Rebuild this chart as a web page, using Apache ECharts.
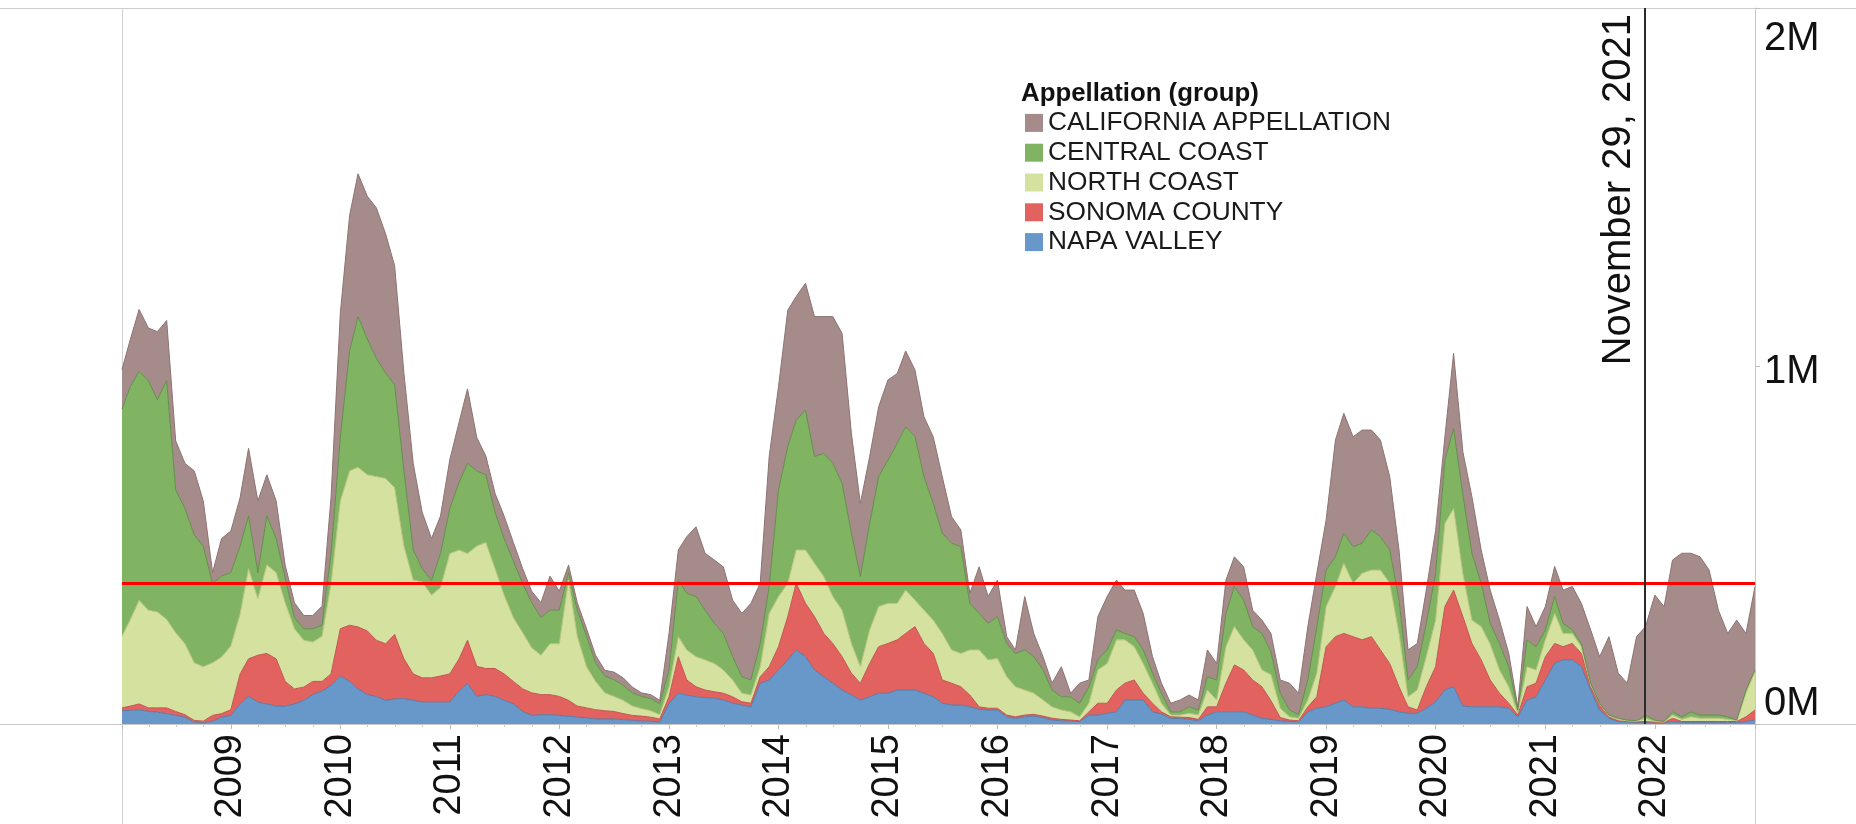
<!DOCTYPE html>
<html>
<head>
<meta charset="utf-8">
<title>Appellation (group)</title>
<script src="https://cdn.jsdelivr.net/npm/echarts@6.0.0/dist/echarts.min.js"></script>
<style>
  html, body { margin: 0; padding: 0; background: #fff; }
  #main { width: 1856px; height: 824px; }
</style>
</head>
<body>
<div id="main"></div>
<script>
// monthly samples, values in thousands
// rows = years 2008 .. 2022, last value is the right edge (Dec 1 2022)
var napa = [
  37, 38, 40, 35, 33, 29, 24, 19, 5, 3, 8, 19,
  24, 56, 77, 61, 56, 50, 50, 56, 66, 82, 92, 108,
  134, 119, 98, 82, 77, 66, 70, 71, 66, 61, 61, 61,
  61, 92, 113, 77, 82, 77, 66, 56, 35, 24, 26, 26,
  24, 22, 19, 17, 14, 14, 14, 12, 10, 8, 8, 5,
  58, 86, 81, 76, 74, 72, 67, 58, 53, 48, 114, 123,
  151, 179, 207, 188, 151, 132, 114, 95, 81, 67, 76, 86,
  86, 95, 95, 95, 86, 76, 58, 53, 53, 48, 41, 39,
  39, 20, 16, 20, 22, 18, 11, 9, 8, 7, 25, 25,
  30, 34, 67, 67, 67, 34, 28, 16, 15, 13, 9, 25,
  34, 34, 34, 34, 25, 16, 13, 9, 7, 6, 34, 44,
  48, 58, 67, 48, 48, 44, 44, 41, 34, 30, 30, 44,
  62, 95, 104, 50, 48, 48, 48, 48, 44, 20, 67, 76,
  123, 170, 179, 179, 160, 95, 39, 16, 7, 5, 4, 4,
  3, 3, 7, 4, 4, 4, 4, 4, 4, 4, 7, 11
];
var sonoma = [
  8, 12, 16, 10, 12, 16, 11, 7, 5, 5, 16, 10,
  16, 84, 105, 131, 141, 132, 69, 42, 37, 37, 27, 32,
  132, 157, 173, 178, 157, 158, 180, 111, 74, 68, 68, 73,
  79, 90, 121, 84, 73, 78, 74, 63, 63, 63, 56, 56,
  53, 44, 31, 28, 26, 23, 21, 17, 14, 14, 11, 9,
  18, 102, 42, 28, 21, 18, 19, 18, 9, 10, 18, 37,
  65, 121, 186, 149, 149, 121, 111, 93, 61, 47, 93, 130,
  139, 140, 158, 177, 139, 121, 65, 61, 51, 33, 7, 5,
  5, 5, 4, 5, 5, 4, 5, 4, 3, 2, 9, 33,
  28, 61, 47, 56, 19, 24, 6, 4, 4, 5, 4, 23,
  14, 80, 131, 117, 98, 88, 52, 9, 4, 3, 14, 32,
  168, 186, 186, 196, 187, 200, 163, 128, 70, 18, 9, 60,
  98, 233, 270, 250, 177, 131, 75, 38, 14, 5, 37, 38,
  65, 55, 37, 46, 37, 9, 14, 4, 2, 2, 2, 3,
  2, 1, 9, 3, 3, 3, 3, 3, 3, 3, 13, 28
];
var northCoast = [
  200, 242, 289, 273, 268, 247, 220, 198, 161, 152, 147, 158,
  178, 168, 252, 158, 247, 241, 220, 168, 131, 110, 126, 252,
  357, 431, 446, 436, 457, 462, 410, 315, 262, 268, 231, 247,
  336, 304, 242, 336, 352, 279, 220, 178, 157, 126, 110, 142,
  147, 336, 195, 115, 79, 50, 42, 37, 26, 21, 18, 12,
  28, 56, 84, 84, 84, 79, 65, 47, 24, 23, 28, 149,
  140, 93, 93, 149, 149, 159, 131, 130, 83, 46, 94, 112,
  112, 102, 121, 74, 93, 93, 130, 93, 93, 126, 159, 135,
  139, 107, 84, 70, 59, 45, 32, 26, 23, 11, 24, 93,
  111, 140, 121, 93, 83, 56, 24, 5, 6, 12, 12, 47,
  19, 102, 107, 84, 84, 47, 73, 26, 9, 7, 19, 66,
  112, 140, 196, 149, 186, 186, 223, 224, 149, 28, 56, 84,
  130, 232, 228, 120, 65, 93, 100, 65, 46, 5, 56, 37,
  47, 84, 37, 28, 19, 5, 3, 2, 4, 2, 1, 9,
  2, 1, 9, 6, 13, 9, 9, 9, 6, 2, 66, 107
];
var centralCoast = [
  635, 651, 640, 641, 593, 667, 399, 378, 357, 337, 221, 226,
  205, 189, 147, 73, 137, 95, 69, 31, 32, 37, 31, 84,
  178, 336, 421, 379, 331, 294, 288, 210, 84, 37, 41, 95,
  126, 189, 252, 210, 189, 157, 158, 158, 137, 126, 105, 94,
  94, 21, 73, 85, 52, 47, 47, 42, 37, 34, 34, 30,
  47, 158, 158, 168, 139, 112, 102, 65, 46, 42, 65, 75,
  298, 382, 363, 391, 298, 344, 372, 354, 308, 252, 297, 363,
  400, 447, 456, 457, 373, 326, 280, 298, 298, 130, 102, 102,
  117, 93, 93, 112, 102, 84, 47, 37, 42, 38, 46, 28,
  38, 28, 18, 28, 38, 28, 28, 9, 9, 18, 14, 37,
  56, 93, 112, 111, 65, 102, 63, 42, 19, 10, 56, 130,
  102, 83, 84, 102, 84, 112, 93, 93, 93, 47, 65, 93,
  130, 177, 223, 220, 187, 121, 58, 74, 56, 9, 75, 65,
  28, 47, 28, 10, 9, 5, 2, 3, 3, 2, 2, 9,
  4, 2, 9, 7, 14, 9, 9, 9, 7, 2, 9, 5
];
var california = [
  110, 132, 173, 147, 190, 168, 137, 126, 179, 126, 31, 105,
  116, 136, 189, 200, 115, 105, 36, 42, 37, 37, 53, 157,
  347, 378, 399, 399, 420, 389, 332, 273, 242, 157, 117, 105,
  136, 168, 208, 93, 53, 53, 63, 52, 42, 32, 42, 95,
  53, 21, 21, 21, 21, 16, 21, 21, 16, 10, 11, 10,
  102, 84, 158, 195, 159, 177, 186, 158, 177, 214, 168, 363,
  288, 381, 345, 354, 391, 382, 410, 419, 279, 204, 187, 195,
  224, 195, 212, 186, 167, 186, 158, 74, 47, 28, 130, 75,
  102, 19, 10, 149, 65, 37, 19, 84, 10, 56, 19, 121,
  149, 139, 121, 130, 102, 46, 28, 24, 33, 33, 28, 75,
  46, 93, 83, 93, 46, 37, 52, 37, 75, 60, 149, 149,
  140, 326, 335, 307, 316, 279, 270, 205, 140, 84, 65, 93,
  120, 65, 210, 120, 158, 93, 93, 65, 37, 9, 93, 56,
  65, 84, 93, 121, 112, 149, 130, 219, 126, 103, 235, 247,
  349, 321, 424, 457, 443, 442, 405, 293, 233, 279, 158, 233
];

var seriesNames = ['NAPA VALLEY', 'SONOMA COUNTY', 'NORTH COAST', 'CENTRAL COAST', 'CALIFORNIA APPELLATION'];
var legendOrder = ['CALIFORNIA APPELLATION', 'CENTRAL COAST', 'NORTH COAST', 'SONOMA COUNTY', 'NAPA VALLEY'];
var targetLevel = 392000;          // red reference line
var markDate = '2021-11-29';
var markLabel = 'November 29, 2021';

// sample dates: first of every month, plus the chart edges
var months = ['2008-01-04'];
for (var y = 2008; y <= 2022; y++) {
  for (var m = 1; m <= 12; m++) {
    if (y === 2008 && m === 1) continue;
    if (y === 2022 && m === 12) continue;
    months.push(y + '-' + (m < 10 ? '0' + m : m) + '-01');
  }
}
months.push('2022-12-01');

var fills = ['#6898c9', '#e2625f', '#d4e19f', '#80b462', '#a58b89'];
var edges = ['#5a7aa6', '#c25250', '#b8c47e', '#628e4a', '#8d7371'];
var font = '"Liberation Sans", Arial, sans-serif';

function toDate(s) {
  var p = s.split('-');
  return new Date(+p[0], +p[1] - 1, +p[2]).getTime();
}
function pairs(vals) {
  return months.map(function (d, i) { return [toDate(d), vals[i] * 1000]; });
}

var values = [napa, sonoma, northCoast, centralCoast, california];
var series = values.map(function (vals, i) {
  var s = {
    name: seriesNames[i],
    type: 'line',
    stack: 'total',
    symbol: 'none',
    color: fills[i],
    lineStyle: { width: 1, color: edges[i] },
    areaStyle: { color: fills[i], opacity: 1 },
    emphasis: { disabled: true },
    data: pairs(vals)
  };
  if (i === values.length - 1) {
    s.markLine = {
      silent: true,
      symbol: ['none', 'none'],
      animation: false,
      data: [
        {
          yAxis: targetLevel,
          lineStyle: { color: '#ff0000', width: 3, type: 'solid' },
          label: { show: false }
        },
        {
          xAxis: toDate(markDate),
          lineStyle: { color: '#2b2b2b', width: 2, type: 'solid' },
          label: {
            show: true,
            position: 'insideEndTop',
            formatter: markLabel,
            fontFamily: font,
            fontSize: 40,
            color: '#111',
            distance: 6
          }
        }
      ]
    };
  }
  return s;
});

var chart = echarts.init(document.getElementById('main'));
var DAY = 86400000;
var ylab = { fontFamily: font, fontSize: 40, color: '#111' };

chart.setOption({
  animation: false,
  backgroundColor: '#fff',
  title: {
    text: 'Appellation (group)',
    left: 1021,
    top: 81,
    padding: 0,
    textStyle: { fontFamily: font, fontSize: 25.8, fontWeight: 'bold', color: '#111' }
  },
  legend: {
    orient: 'vertical',
    left: 1025,
    top: 108,
    padding: 0,
    itemGap: 0,
    itemWidth: 18,
    itemHeight: 18,
    icon: 'rect',
    selectedMode: false,
    itemStyle: { borderWidth: 0 },
    data: legendOrder,
    textStyle: {
      fontFamily: font,
      fontSize: 26.3,
      lineHeight: 29.8,
      color: '#1a1a1a'
    }
  },
  grid: { left: 122, right: 101, top: 8, bottom: 100, outerBoundsMode: 'none' },
  xAxis: {
    type: 'time',
    min: toDate('2008-01-04'),
    max: toDate('2022-12-01'),
    minInterval: 364 * DAY,
    maxInterval: 366 * DAY,
    splitNumber: 14,
    axisLine: { show: true, lineStyle: { color: '#c8c8c8', width: 1 } },
    axisTick: { show: true, length: 5, lineStyle: { color: '#bcbcbc' } },
    minorTick: { show: true, splitNumber: 4, length: 3, lineStyle: { color: '#d0d0d0' } },
    splitLine: { show: false },
    axisLabel: {
      rotate: 90,
      margin: 10,
      fontFamily: font,
      fontSize: 38,
      color: '#111',
      showMinLabel: false,
      showMaxLabel: false,
      formatter: function (v) {
        var d = new Date(v);
        return (d.getMonth() === 0 && d.getDate() === 1) ? String(d.getFullYear()) : '';
      }
    }
  },
  yAxis: {
    type: 'value',
    position: 'right',
    min: 0,
    max: 2000000,
    interval: 1000000,
    axisLine: { show: true, lineStyle: { color: '#c8c8c8' } },
    axisTick: { show: true, length: 5, lineStyle: { color: '#bcbcbc' } },
    splitLine: { show: false },
    axisLabel: {
      margin: 9,
      formatter: function (v) {
        var t = (v / 1000000) + 'M';
        if (v >= 2000000) return '{t|' + t + '}';
        if (v === 0) return '{b|' + t + '}';
        return '{m|' + t + '}';
      },
      rich: {
        t: Object.assign({ padding: [62, 0, 0, 0] }, ylab),
        m: Object.assign({ padding: [12, 0, 0, 0] }, ylab),
        b: Object.assign({ padding: [0, 0, 40, 0] }, ylab)
      }
    }
  },
  graphic: [
    { type: 'line', silent: true, shape: { x1: 0, y1: 8.5, x2: 1856, y2: 8.5 }, style: { stroke: '#cfcfcf', lineWidth: 1 } },
    { type: 'line', silent: true, shape: { x1: 0, y1: 724.5, x2: 1856, y2: 724.5 }, style: { stroke: '#c8c8c8', lineWidth: 1 } },
    { type: 'line', silent: true, shape: { x1: 122.5, y1: 8, x2: 122.5, y2: 824 }, style: { stroke: '#cfcfcf', lineWidth: 1 } },
    { type: 'line', silent: true, shape: { x1: 1755.5, y1: 8, x2: 1755.5, y2: 824 }, style: { stroke: '#cfcfcf', lineWidth: 1 } }
  ],
  series: series
});
</script>
</body>
</html>
